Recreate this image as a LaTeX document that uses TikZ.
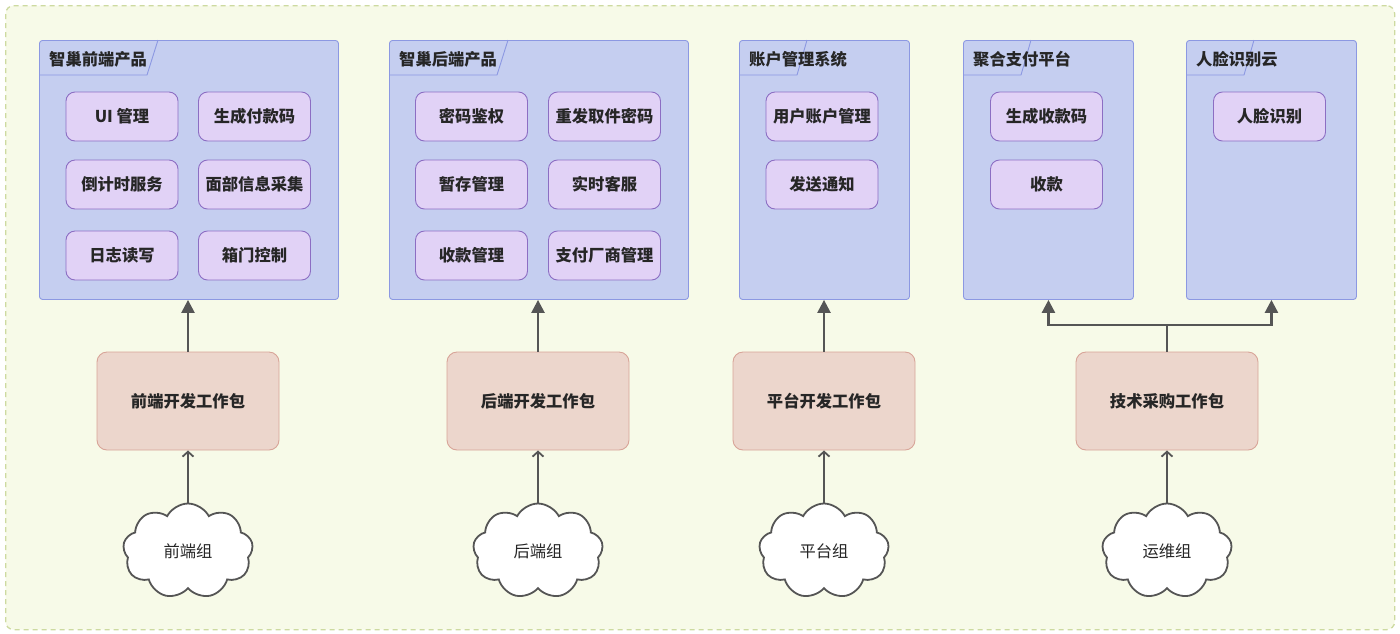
\documentclass[tikz,border=0pt]{standalone}
\usepackage{fontspec}
\setmainfont{Noto Sans CJK SC}
\usetikzlibrary{shapes.symbols,arrows.meta}
\definecolor{bgfill}{RGB}{247,250,232}
\definecolor{bgline}{RGB}{205,218,160}
\definecolor{pkgfill}{RGB}{197,206,240}
\definecolor{pkgline}{RGB}{140,152,226}
\definecolor{itemfill}{RGB}{225,210,246}
\definecolor{itemline}{RGB}{140,110,195}
\definecolor{wpfill}{RGB}{236,214,204}
\definecolor{wpline}{RGB}{216,164,152}
\definecolor{arr}{RGB}{85,85,85}
\tikzset{
  pkgbox/.style={draw=pkgline, fill=pkgfill, line width=0.9pt, rounded corners=3pt, anchor=north west, inner sep=0pt},
  pkgtab/.style={draw=pkgline, line width=0.9pt},
  tablabel/.style={anchor=west, font=\bfseries\fontsize{16.3}{19}\selectfont, text=black!85, inner sep=0pt},
  itembox/.style={draw=itemline, fill=itemfill, line width=0.9pt, rounded corners=9pt, minimum width=112pt, minimum height=49pt, inner sep=0pt, font=\bfseries\fontsize{16.3}{19}\selectfont, text=black!85},
  wpbox/.style={draw=wpline, fill=wpfill, line width=0.9pt, rounded corners=10pt, minimum width=182pt, minimum height=98pt, inner sep=0pt, font=\bfseries\fontsize{16.3}{19}\selectfont, text=black!85},
  teamcloud/.style={cloud, cloud puffs=9, cloud puff arc=125, aspect=1.4, draw=arr, fill=white, line width=1.8pt, minimum width=130pt, minimum height=95pt, inner sep=0pt, font=\fontsize{16.3}{19}\selectfont, text=black!85},
  solidarrow/.style={draw=arr, line width=2.4pt, -{Triangle[length=13pt,width=13pt]}},
  openarrow/.style={draw=arr, line width=2.4pt, -{Straight Barb[length=5pt,width=11pt,line width=1.8pt]}},
}
\begin{document}
\begin{tikzpicture}[x=1pt,y=-1pt]
\useasboundingbox (0,0) rectangle (1400,633);
\node[draw=bgline, fill=bgfill, line width=1.3pt, dash pattern=on 5pt off 4pt, rounded corners=8pt, anchor=north west, minimum width=1389pt, minimum height=624pt, inner sep=0pt] (frame) at (5,5) {};

% packages
\node[pkgbox, minimum width=299pt, minimum height=259pt] (p1) at (39,40) {};
\node[pkgbox, minimum width=299pt, minimum height=259pt] (p2) at (389,40) {};
\node[pkgbox, minimum width=170pt, minimum height=259pt] (p3) at (739,40) {};
\node[pkgbox, minimum width=170pt, minimum height=259pt] (p4) at (963,40) {};
\node[pkgbox, minimum width=170pt, minimum height=259pt] (p5) at (1186,40) {};

% tabs (40% of package width)
\draw[pkgtab] ([xshift=119pt]p1.north west) -- ([xshift=108pt,yshift=-35pt]p1.north west) -- ([yshift=-35pt]p1.north west);
\draw[pkgtab] ([xshift=119pt]p2.north west) -- ([xshift=108pt,yshift=-35pt]p2.north west) -- ([yshift=-35pt]p2.north west);
\draw[pkgtab] ([xshift=68pt]p3.north west) -- ([xshift=58pt,yshift=-35pt]p3.north west) -- ([yshift=-35pt]p3.north west);
\draw[pkgtab] ([xshift=68pt]p4.north west) -- ([xshift=58pt,yshift=-35pt]p4.north west) -- ([yshift=-35pt]p4.north west);
\draw[pkgtab] ([xshift=68pt]p5.north west) -- ([xshift=58pt,yshift=-35pt]p5.north west) -- ([yshift=-35pt]p5.north west);
\node[tablabel] (t1) at ([xshift=10pt,yshift=-19pt]p1.north west) {智巢前端产品};
\node[tablabel] (t2) at ([xshift=10pt,yshift=-19pt]p2.north west) {智巢后端产品};
\node[tablabel] (t3) at ([xshift=10pt,yshift=-19pt]p3.north west) {账户管理系统};
\node[tablabel] (t4) at ([xshift=10pt,yshift=-19pt]p4.north west) {聚合支付平台};
\node[tablabel] (t5) at ([xshift=10pt,yshift=-19pt]p5.north west) {人脸识别云};

% items
\node[itembox] (a1) at (122,116.5) {UI 管理};
\node[itembox] (a2) at (254.5,116.5) {生成付款码};
\node[itembox] (a3) at (122,184.5) {倒计时服务};
\node[itembox] (a4) at (254.5,184.5) {面部信息采集};
\node[itembox] (a5) at (122,255.5) {日志读写};
\node[itembox] (a6) at (254.5,255.5) {箱门控制};

\node[itembox] (b1) at (471.5,116.5) {密码鉴权};
\node[itembox] (b2) at (604.5,116.5) {重发取件密码};
\node[itembox] (b3) at (471.5,184.5) {暂存管理};
\node[itembox] (b4) at (604.5,184.5) {实时客服};
\node[itembox] (b5) at (471.5,255.5) {收款管理};
\node[itembox] (b6) at (604.5,255.5) {支付厂商管理};

\node[itembox] (c1) at (822,116.5) {用户账户管理};
\node[itembox] (c2) at (822,184.5) {发送通知};

\node[itembox] (d1) at (1046.5,116.5) {生成收款码};
\node[itembox] (d2) at (1046.5,184.5) {收款};

\node[itembox] (e1) at (1269.5,116.5) {人脸识别};

% work packages
\node[wpbox] (w1) at (188,401) {前端开发工作包};
\node[wpbox] (w2) at (538,401) {后端开发工作包};
\node[wpbox] (w3) at (824,401) {平台开发工作包};
\node[wpbox] (w4) at (1167,401) {技术采购工作包};

% clouds
\node[teamcloud] (g1) at (188,551) {前端组};
\node[teamcloud] (g2) at (538,551) {后端组};
\node[teamcloud] (g3) at (824,551) {平台组};
\node[teamcloud] (g4) at (1167,551) {运维组};

% arrows
\draw[solidarrow] (w1.north) -- (w1.north |- p1.south);
\draw[solidarrow] (w2.north) -- (w2.north |- p2.south);
\draw[solidarrow] (w3.north) -- (w3.north |- p3.south);
\coordinate (fork) at (1167,325);
\draw[draw=arr, line width=2.4pt] (w4.north) -- (fork);
\draw[solidarrow] (fork) -| (p4.south);
\draw[solidarrow] (fork) -| (p5.south);

\draw[openarrow] (g1.north) -- (w1.south);
\draw[openarrow] (g2.north) -- (w2.south);
\draw[openarrow] (g3.north) -- (w3.south);
\draw[openarrow] (g4.north) -- (w4.south);
\end{tikzpicture}
\end{document}
